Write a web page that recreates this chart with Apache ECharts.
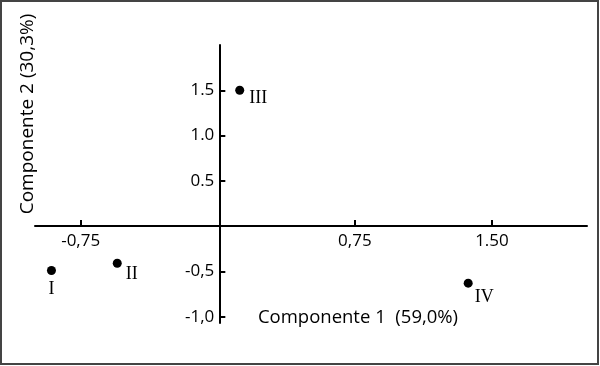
<!DOCTYPE html>
<html>
<head>
<meta charset="utf-8">
<script src="https://cdn.jsdelivr.net/npm/echarts@6/dist/echarts.min.js"></script>
<style>
  body { margin: 0; background: #fff; }
  #main { width: 600px; height: 366px; }
</style>
</head>
<body>
<div id="main"></div>
<script>
// grupos (componentes principais)
const groupNames = ['I', 'II', 'III', 'IV']
const comp1 = [-0.91, -0.55, 0.12, 1.37]
const comp2 = [-0.49, -0.41, 1.50, -0.63]

// marcas dos eixos
const xTickValues = [-0.75, 0.75, 1.5]
const xTickLabels = ['-0,75', '0,75', '1.50']
const yTickValues = [-1.0, -0.5, 0.5, 1.0, 1.5]
const yTickLabels = ['-1,0', '-0,5', '0.5', '1.0', '1.5']

const xName = 'Componente 1  (59,0%)'
const yName = 'Componente 2 (30,3%)'

// posição do rótulo de cada ponto
const labelPos = {
  I: {position: 'bottom', distance: 5, offset: [0, 0]},
  II: {position: 'right', distance: 4, offset: [0, 11]},
  III: {position: 'right', distance: 5, offset: [0, 8]},
  IV: {position: 'right', distance: 2, offset: [0, 14]}
}

const tickFont = '"Open Sans", sans-serif'
const gridBox = {left: 35, right: 13, top: 45, bottom: 43}

const chart = echarts.init(document.getElementById('main'))

const data = groupNames.map((n, i) => ({
  name: n,
  value: [comp1[i], comp2[i]],
  label: labelPos[n]
}))

chart.setOption({
  animation: false,
  grid: gridBox,
  xAxis: {
    type: 'value',
    min: -1.0,
    max: 2.02,
    splitLine: {show: false},
    axisLine: {onZero: false, lineStyle: {color: '#000', width: 2}},
    axisTick: {show: true, inside: true, length: 6, customValues: xTickValues, lineStyle: {color: '#000', width: 2}},
    axisLabel: {
      customValues: xTickValues,
      margin: 7,
      color: '#000',
      fontSize: 17,
      fontFamily: tickFont,
      formatter: (v) => xTickLabels[xTickValues.indexOf(v)]
    }
  },
  yAxis: {
    type: 'value',
    min: -1.07,
    max: 2.0,
    splitLine: {show: false},
    axisLine: {onZero: false, lineStyle: {color: '#000', width: 2}},
    axisTick: {show: true, inside: true, length: 6, customValues: yTickValues, lineStyle: {color: '#000', width: 2}},
    axisLabel: {
      customValues: yTickValues,
      margin: 5,
      padding: [4, 0, 0, 0],
      color: '#000',
      fontSize: 17,
      fontFamily: tickFont,
      formatter: (v) => yTickLabels[yTickValues.indexOf(v)]
    }
  },
  graphic: [
    {
      type: 'rect',
      shape: {x: 1, y: 1, width: 597, height: 363},
      style: {fill: 'none', stroke: '#444', lineWidth: 2}
    },
    {
      type: 'text',
      x: 358,
      y: 318,
      style: {text: xName, font: '18.5px "Open Sans", sans-serif', fill: '#000', align: 'center', verticalAlign: 'middle'}
    },
    {
      type: 'text',
      x: 28,
      y: 114,
      rotation: Math.PI / 2,
      style: {text: yName, font: '19px "Open Sans", sans-serif', fill: '#000', align: 'center', verticalAlign: 'middle'}
    }
  ],
  series: [
    {
      type: 'scatter',
      data: data,
      symbolSize: 9,
      itemStyle: {color: '#000', opacity: 1},
      label: {
        show: true,
        formatter: '{b}',
        color: '#000',
        fontSize: 18,
        fontFamily: '"Liberation Serif", "DejaVu Serif", serif'
      }
    }
  ]
})

// eixos cruzando na origem
const origin = chart.convertToPixel({gridIndex: 0}, [0, 0])
chart.setOption({
  xAxis: {offset: -(366 - gridBox.bottom - origin[1])},
  yAxis: {offset: -(origin[0] - gridBox.left)}
})
</script>
</body>
</html>
